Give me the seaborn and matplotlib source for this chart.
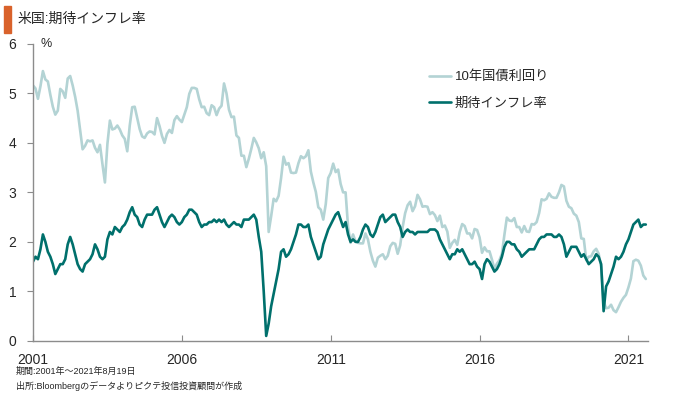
import numpy as np
import pandas as pd
import matplotlib
matplotlib.use("Agg")
import matplotlib.pyplot as plt
import seaborn as sns

# ---- monthly values (Jan 2001 - Aug 2021) ----
yield_10y = [
    # 2001
    5.16, 5.10, 4.89, 5.14, 5.45, 5.28, 5.24, 4.97, 4.73, 4.57, 4.65, 5.09,
    # 2002
    5.04, 4.91, 5.30, 5.35, 5.16, 4.93, 4.65, 4.26, 3.87, 3.94, 4.05, 4.03,
    # 2003
    4.05, 3.90, 3.81, 3.96, 3.57, 3.20, 3.98, 4.45, 4.27, 4.29, 4.35, 4.27,
    # 2004
    4.15, 4.08, 3.83, 4.35, 4.72, 4.73, 4.50, 4.28, 4.13, 4.10, 4.19, 4.23,
    # 2005
    4.22, 4.17, 4.50, 4.34, 4.14, 4.00, 4.18, 4.26, 4.20, 4.46, 4.54, 4.47,
    # 2006
    4.42, 4.57, 4.72, 4.99, 5.11, 5.11, 5.09, 4.88, 4.72, 4.73, 4.60, 4.56,
    # 2007
    4.76, 4.72, 4.56, 4.69, 4.75, 5.20, 5.00, 4.67, 4.52, 4.53, 4.15, 4.10,
    # 2008
    3.74, 3.74, 3.51, 3.68, 3.88, 4.10, 4.01, 3.89, 3.69, 3.81, 3.53, 2.20,
    # 2009
    2.52, 2.87, 2.82, 2.93, 3.29, 3.72, 3.56, 3.59, 3.40, 3.39, 3.40, 3.59,
    # 2010
    3.73, 3.69, 3.73, 3.85, 3.42, 3.20, 3.01, 2.70, 2.65, 2.45, 2.76, 3.29,
    # 2011
    3.39, 3.58, 3.41, 3.46, 3.17, 3.00, 3.00, 2.30, 1.98, 2.15, 2.01, 1.98,
    # 2012
    1.97, 1.97, 2.17, 2.05, 1.80, 1.62, 1.50, 1.68, 1.72, 1.75, 1.65, 1.72,
    # 2013
    1.91, 1.98, 1.96, 1.76, 1.93, 2.30, 2.58, 2.74, 2.81, 2.62, 2.72, 2.95,
    # 2014
    2.86, 2.71, 2.72, 2.71, 2.56, 2.60, 2.54, 2.42, 2.53, 2.30, 2.33, 2.21,
    # 2015
    1.88, 1.98, 2.04, 1.94, 2.20, 2.36, 2.32, 2.17, 2.17, 2.07, 2.26, 2.24,
    # 2016
    2.09, 1.78, 1.89, 1.81, 1.81, 1.64, 1.45, 1.56, 1.63, 1.76, 2.14, 2.49,
    # 2017
    2.43, 2.42, 2.48, 2.30, 2.30, 2.19, 2.32, 2.21, 2.20, 2.36, 2.35, 2.40,
    # 2018
    2.58, 2.86, 2.84, 2.87, 2.98, 2.91, 2.89, 2.89, 3.00, 3.15, 3.12, 2.83,
    # 2019
    2.71, 2.68, 2.57, 2.53, 2.40, 2.07, 2.06, 1.63, 1.70, 1.71, 1.81, 1.86,
    # 2020
    1.76, 1.50, 0.80, 0.66, 0.67, 0.73, 0.62, 0.58, 0.68, 0.79, 0.87, 0.93,
    # 2021
    1.08, 1.26, 1.61, 1.64, 1.62, 1.52, 1.32, 1.25,
]

breakeven = [
    # 2001
    1.60, 1.70, 1.65, 1.85, 2.15, 2.00, 1.80, 1.70, 1.55, 1.35, 1.45, 1.55,
    # 2002
    1.55, 1.65, 1.95, 2.10, 1.95, 1.75, 1.55, 1.45, 1.40, 1.55, 1.60, 1.65,
    # 2003
    1.75, 1.95, 1.85, 1.70, 1.65, 1.70, 2.05, 2.20, 2.15, 2.30, 2.25, 2.20,
    # 2004
    2.30, 2.35, 2.45, 2.60, 2.70, 2.55, 2.50, 2.35, 2.30, 2.45, 2.55, 2.55,
    # 2005
    2.55, 2.65, 2.70, 2.55, 2.40, 2.30, 2.40, 2.50, 2.55, 2.50, 2.40, 2.35,
    # 2006
    2.40, 2.50, 2.55, 2.65, 2.65, 2.60, 2.55, 2.40, 2.30, 2.35, 2.35, 2.40,
    # 2007
    2.40, 2.45, 2.40, 2.45, 2.40, 2.45, 2.35, 2.30, 2.35, 2.40, 2.35, 2.35,
    # 2008
    2.30, 2.45, 2.45, 2.45, 2.50, 2.55, 2.45, 2.10, 1.80, 1.00, 0.10, 0.35,
    # 2009
    0.70, 0.95, 1.20, 1.45, 1.80, 1.85, 1.70, 1.75, 1.85, 2.00, 2.15, 2.35,
    # 2010
    2.35, 2.30, 2.30, 2.35, 2.10, 1.95, 1.80, 1.65, 1.70, 1.95, 2.10, 2.25,
    # 2011
    2.35, 2.45, 2.55, 2.60, 2.45, 2.30, 2.40, 2.15, 2.00, 2.05, 2.00, 2.00,
    # 2012
    2.10, 2.25, 2.35, 2.30, 2.15, 2.10, 2.20, 2.35, 2.50, 2.55, 2.40, 2.45,
    # 2013
    2.50, 2.55, 2.55, 2.40, 2.30, 2.10, 2.20, 2.25, 2.20, 2.20, 2.15, 2.20,
    # 2014
    2.20, 2.20, 2.20, 2.20, 2.25, 2.25, 2.25, 2.20, 2.05, 1.95, 1.85, 1.75,
    # 2015
    1.65, 1.75, 1.75, 1.85, 1.80, 1.85, 1.75, 1.65, 1.55, 1.55, 1.60, 1.50,
    # 2016
    1.45, 1.25, 1.55, 1.65, 1.60, 1.50, 1.40, 1.45, 1.55, 1.70, 1.90, 2.00,
    # 2017
    2.00, 1.95, 1.95, 1.85, 1.80, 1.70, 1.75, 1.80, 1.85, 1.85, 1.85, 1.95,
    # 2018
    2.05, 2.10, 2.10, 2.15, 2.15, 2.15, 2.10, 2.10, 2.15, 2.10, 1.95, 1.70,
    # 2019
    1.80, 1.90, 1.90, 1.90, 1.80, 1.70, 1.75, 1.65, 1.55, 1.60, 1.65, 1.75,
    # 2020
    1.70, 1.55, 0.60, 1.10, 1.20, 1.35, 1.50, 1.70, 1.65, 1.70, 1.80, 1.95,
    # 2021
    2.05, 2.20, 2.35, 2.40, 2.45, 2.30, 2.35, 2.35,
]

year_ticks = [2001, 2006, 2011, 2016, 2021]
y_ticks = [0, 1, 2, 3, 4, 5, 6]
series_names = ["10年国債利回り", "期待インフレ率"]

months = pd.date_range("2001-01-01", periods=len(yield_10y), freq="MS")
dec_year = months.year + (months.month - 1) / 12
df = pd.DataFrame({"x": dec_year, series_names[0]: yield_10y,
                   series_names[1]: breakeven})

sns.set_style("white")
plt.rcParams["font.family"] = ["Liberation Sans", "Noto Sans CJK JP", "DejaVu Sans"]

fig = plt.figure(figsize=(6.8, 3.95), dpi=100)
ax = fig.add_axes([0.0485, 0.137, 0.905, 0.752])

sns.lineplot(data=df, x="x", y=series_names[0], ax=ax, color="#B3D3D4",
             linewidth=1.9, label=series_names[0])
sns.lineplot(data=df, x="x", y=series_names[1], ax=ax, color="#00706C",
             linewidth=1.9, label=series_names[1])

ax.set_xlim(2001, 2021.67)
ax.set_ylim(0, 6)
ax.set_xticks(year_ticks)
ax.set_xticklabels([str(y) for y in year_ticks], fontsize=10)
ax.set_yticks(y_ticks)
ax.set_yticklabels([str(v) for v in y_ticks], fontsize=10)
ax.set_xlabel("")
ax.set_ylabel("")

for side in ["top", "right"]:
    ax.spines[side].set_visible(False)
for side in ["left", "bottom"]:
    ax.spines[side].set_color("#8C8C8C")
    ax.spines[side].set_linewidth(1.0)
ax.tick_params(axis="y", direction="out", length=4, width=0.8,
               color="#8C8C8C", pad=8, left=True)
ax.tick_params(axis="x", direction="in", length=4, width=0.8,
               color="#8C8C8C", pad=9, bottom=True)

ax.text(0.012, 1.0, "%", transform=ax.transAxes, fontsize=9,
        ha="left", va="center")

leg = ax.legend(loc="upper left", bbox_to_anchor=(0.625, 0.95), frameon=False,
                fontsize=9.5, handlelength=1.6, handletextpad=0.3,
                labelspacing=1.1)

# title with orange marker
fig.patches.append(plt.Rectangle((4 / 680, 1 - 33 / 395), 7 / 680, 27 / 395,
                                 transform=fig.transFigure,
                                 color="#D9622B"))
fig.text(18 / 680, 1 - 19 / 395, "米国:期待インフレ率", fontsize=10,
         ha="left", va="center")

fig.text(16 / 680, 1 - 371 / 395, "期間:2001年～2021年8月19日",
         fontsize=6.5, ha="left", va="center")
fig.text(16 / 680, 1 - 386 / 395, "出所:Bloombergのデータよりピクテ投信投資顧問が作成",
         fontsize=6.5, ha="left", va="center")

fig.savefig("out.png", dpi=100, facecolor="white")
